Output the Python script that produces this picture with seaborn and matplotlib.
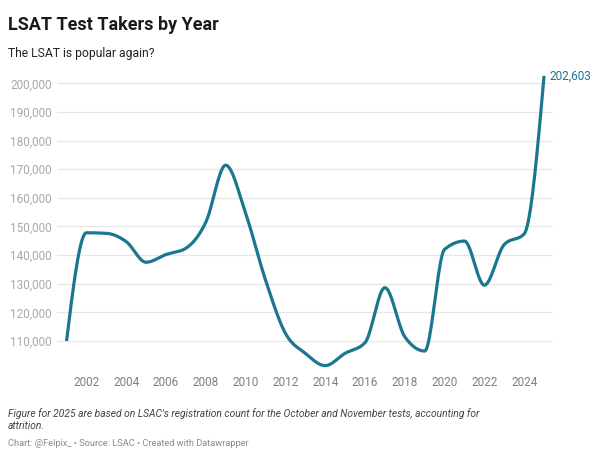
import numpy as np
import pandas as pd
import matplotlib
matplotlib.use("Agg")
import matplotlib.pyplot as plt
import seaborn as sns
from matplotlib.ticker import FuncFormatter

# Data
years = list(range(2001, 2026))
takers = [110000, 147800, 147600, 144700, 137500, 140200, 142400, 151500,
          171400, 154600, 131300, 112700, 105700, 101400, 105700, 109400,
          128600, 111500, 106500, 142000, 144900, 129500, 143700, 147400,
          202603]
x_ticks = list(range(2002, 2025, 2))
y_ticks = list(range(110000, 200001, 10000))

title = "LSAT Test Takers by Year"
subtitle = "The LSAT is popular again?"
note = ("Figure for 2025 are based on LSAC's registration count for the October and November tests, accounting for\n"
        "attrition.")
credit = "Chart: @Felpix_ \u2022 Source: LSAC \u2022 Created with Datawrapper"

LINE = "#1b7690"


def monotone_curve(x, y, n=40):
    # monotone-x cubic, same as the smoothing used for the original line
    x = np.asarray(x, float)
    y = np.asarray(y, float)
    h = np.diff(x)
    s = np.diff(y) / h
    t = np.zeros_like(y)
    for i in range(1, len(x) - 1):
        p = (s[i - 1] * h[i] + s[i] * h[i - 1]) / (h[i - 1] + h[i])
        t[i] = (np.sign(s[i - 1]) + np.sign(s[i])) * min(abs(s[i - 1]), abs(s[i]), 0.5 * abs(p))
    t[0] = (3 * s[0] - t[1]) / 2
    t[-1] = (3 * s[-1] - t[-2]) / 2
    xs, ys = [], []
    for i in range(len(x) - 1):
        u = np.linspace(0, 1, n, endpoint=(i == len(x) - 2))
        h00 = 2 * u**3 - 3 * u**2 + 1
        h10 = u**3 - 2 * u**2 + u
        h01 = -2 * u**3 + 3 * u**2
        h11 = u**3 - u**2
        xs.append(x[i] + u * h[i])
        ys.append(h00 * y[i] + h10 * h[i] * t[i] + h01 * y[i + 1] + h11 * h[i] * t[i + 1])
    return np.concatenate(xs), np.concatenate(ys)


df = pd.DataFrame({"year": years, "takers": takers})
cx, cy = monotone_curve(df["year"], df["takers"])
curve = pd.DataFrame({"year": cx, "takers": cy})

sns.set_theme(style="white")
plt.rcParams["font.family"] = ["Roboto", "DejaVu Sans"]

fig = plt.figure(figsize=(6, 4.59), dpi=100)
ax = fig.add_axes([57 / 600, (459 - 372) / 459, 496 / 600, 298 / 459])

sns.lineplot(data=curve, x="year", y="takers", ax=ax, color=LINE, linewidth=2.3,
             solid_capstyle="butt", zorder=3)

ax.set_xlim(2000.52, 2025.45)
ax.set_ylim(99170, 203250)
ax.set_xticks(x_ticks)
ax.set_yticks(y_ticks)
ax.yaxis.set_major_formatter(FuncFormatter(lambda v, _: f"{int(v):,}"))
ax.grid(axis="y", color="#e6e6e6", linewidth=0.9)
ax.grid(axis="x", visible=False)
for sp in ax.spines.values():
    sp.set_visible(False)
ax.tick_params(axis="y", length=0, pad=4, labelsize=8.5, labelcolor="#a8a8a8")
ax.tick_params(axis="x", length=0, pad=3, labelsize=8.5, labelcolor="#808080")
ax.set_xlabel("")
ax.set_ylabel("")

last = df.iloc[-1]
ax.annotate(f"{int(last['takers']):,}", xy=(last["year"], last["takers"]),
            xytext=(4, 0), textcoords="offset points", va="center", ha="left",
            fontsize=8.5, color=LINE)

fig.text(8 / 600, 1 - 29.5 / 459, title, fontsize=13.0, fontweight="bold",
         color="#1a1a1a", va="baseline", ha="left")
fig.text(8 / 600, 1 - 57.3 / 459, subtitle, fontsize=8.7, color="#222222",
         va="baseline", ha="left")
fig.text(8 / 600, 1 - 429 / 459, note, fontsize=7.4, style="italic",
         color="#444444", va="baseline", ha="left", linespacing=1.2)
fig.text(8 / 600, 1 - 445.7 / 459, credit, fontsize=6.7, color="#8a8a8a",
         va="baseline", ha="left")

fig.savefig("out.png", dpi=100)
